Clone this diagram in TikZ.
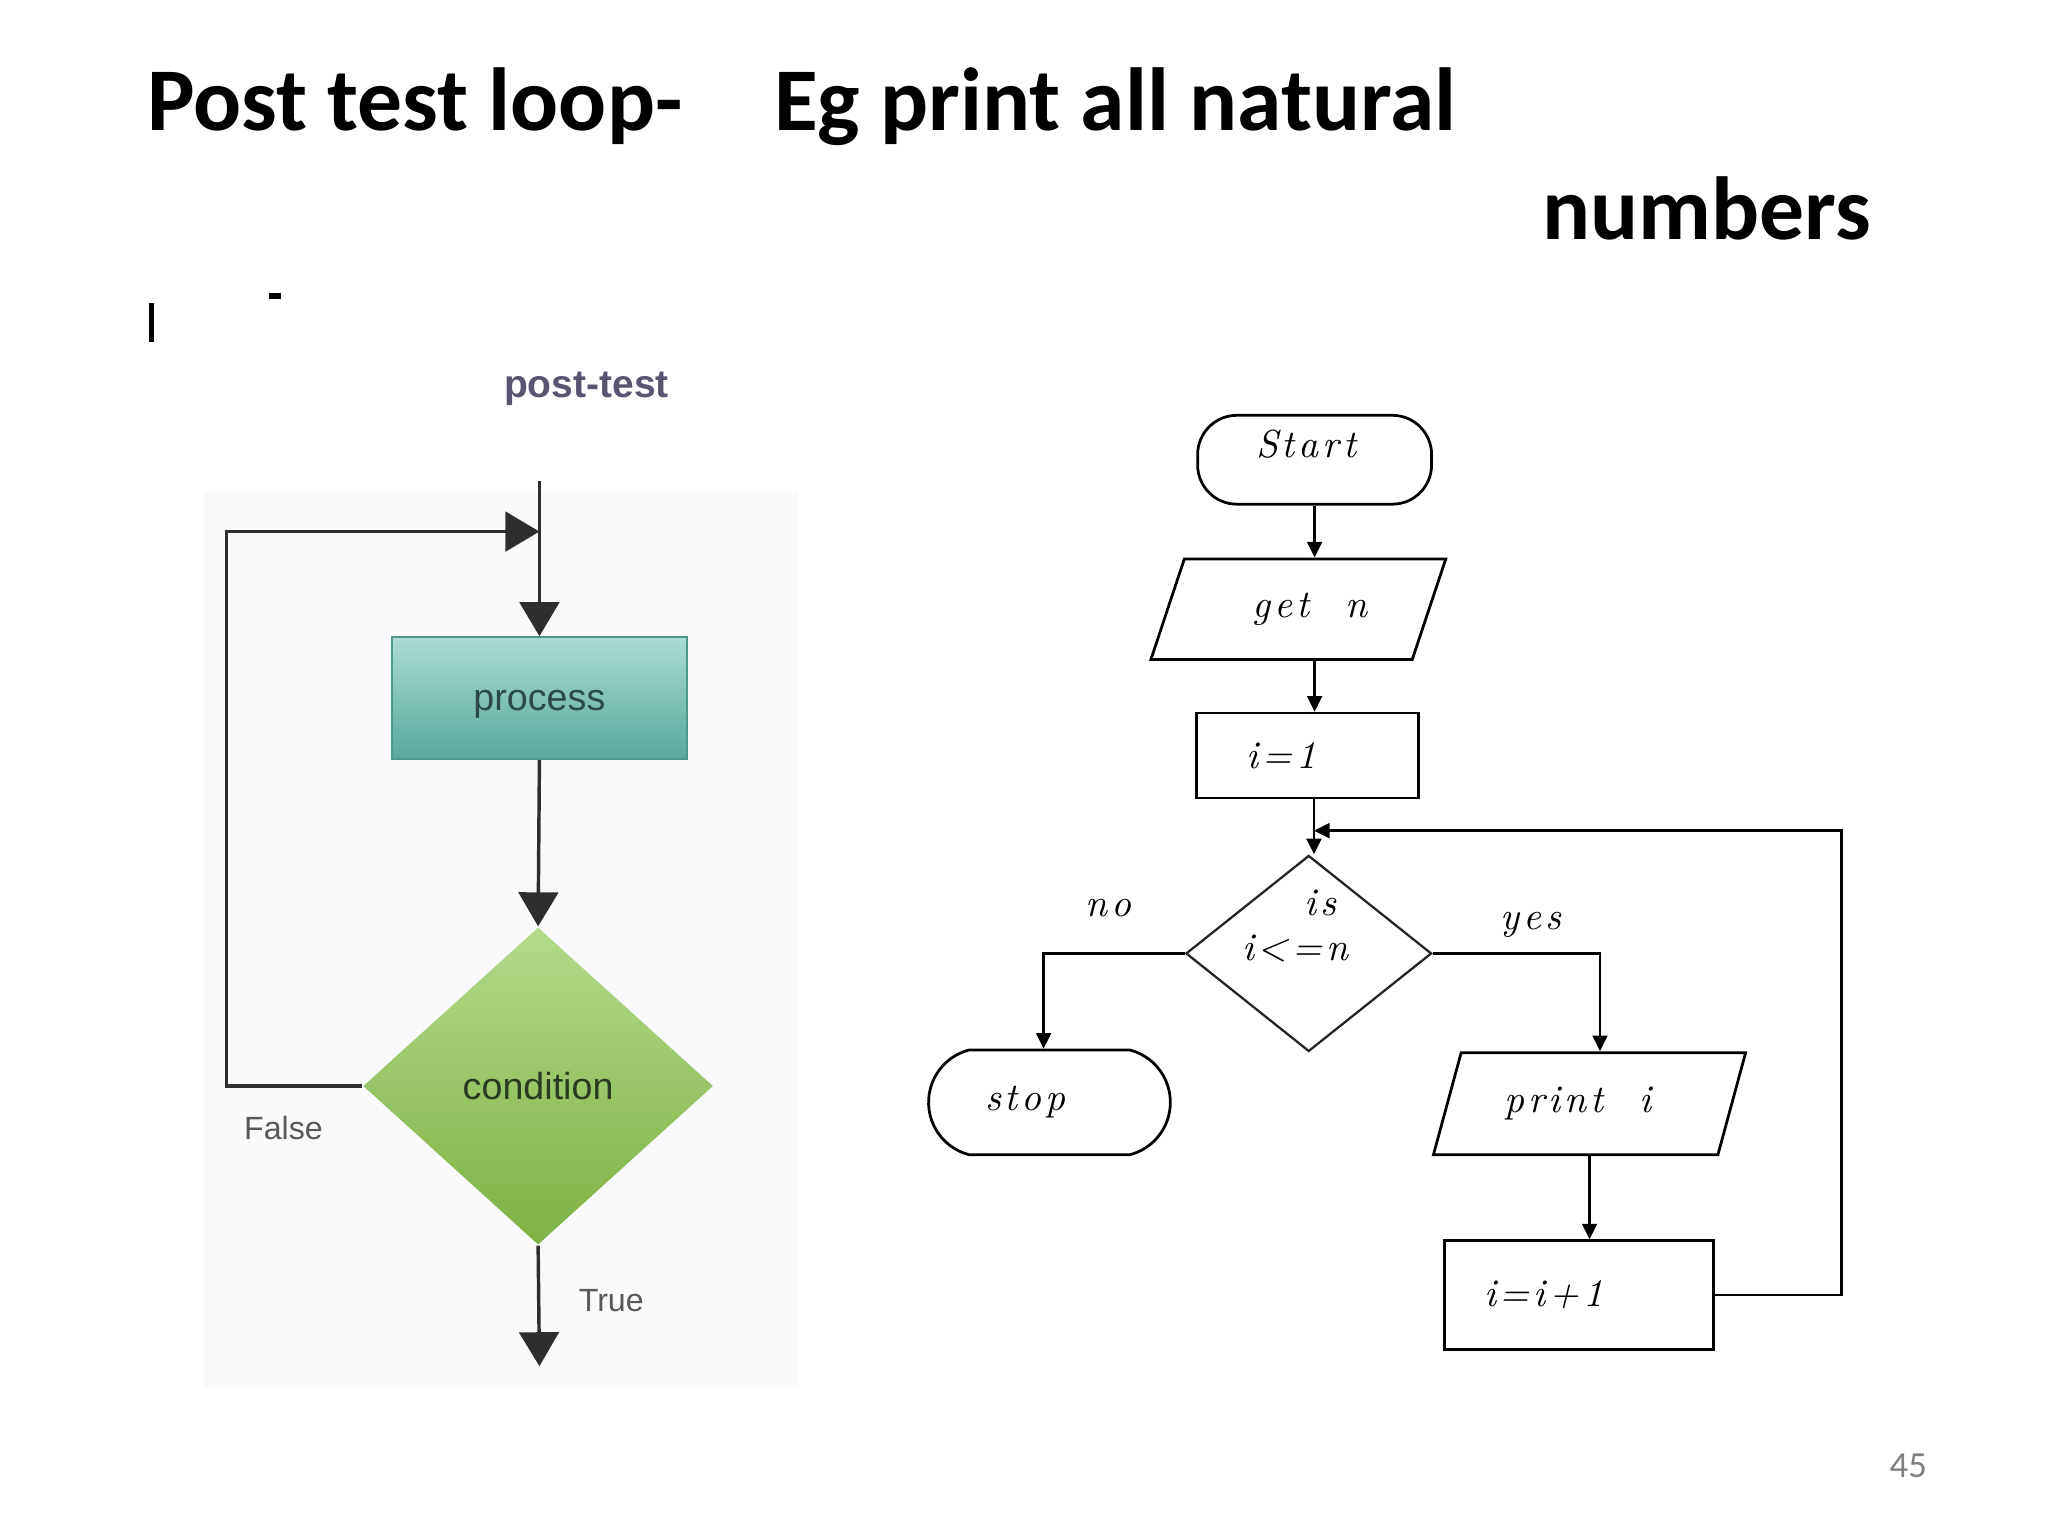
\documentclass[tikz,border=0pt]{standalone}
\usepackage{fontspec}
\usepackage{xcolor}
\usepackage{tikz}
\usetikzlibrary{arrows.meta,positioning,calc,shapes.geometric,shapes.misc}
\setmainfont{Carlito}
\newfontfamily\sansfont{Liberation Sans}
\newfontfamily\flowfont{lmroman10-italic.otf}[LetterSpace=10]
\definecolor{cLine}{HTML}{2E2E2E}
\definecolor{cPurp}{HTML}{5B5470}
\definecolor{cTealTop}{HTML}{AADCD3}
\definecolor{cTealBot}{HTML}{5AA89B}
\definecolor{cTealDk}{HTML}{4E978B}
\definecolor{cTealTxt}{HTML}{2A4A47}
\definecolor{cGrnTop}{HTML}{B4D98C}
\definecolor{cGrnBot}{HTML}{7DB243}
\definecolor{cGrnTxt}{HTML}{2C3A22}
\definecolor{cPanel}{HTML}{FAFAFC}
\definecolor{cNum}{HTML}{7F7F7F}
\tikzset{
  ttl/.style={font=\fontsize{19.5}{23}\selectfont\bfseries,text=black,anchor=base west,inner sep=0pt},
  larr/.style={-{Triangle[length=7.4pt,width=8.6pt]},line width=0.75pt,color=cLine},
  lbl/.style={font=\sansfont\fontsize{7}{8}\selectfont,text=#1,inner sep=0pt},
  lbl/.default=black!65,
  rarr/.style={-{Triangle[length=3.4pt,width=3.2pt]},line width=0.6pt,color=black},
  ftxt/.style={font=\flowfont\fontsize{8.5}{10}\selectfont,inner sep=0pt,align=center},
  fbox/.style={ftxt,draw=black,line width=0.6pt,minimum width=#1},
  term/.style={fbox=#1,rectangle,rounded corners=0.3cm},
  proc/.style={fbox=#1,rectangle},
  io/.style={fbox=#1,trapezium,trapezium stretches=true},
  dec/.style={ftxt,draw=black!85,line width=0.5pt,diamond,minimum width=#1},
}
\begin{document}
\begin{tikzpicture}[x=0.01cm,y=-0.01cm]
  \useasboundingbox (0,0) rectangle (1568,1176);
  % title
  \node[ttl] (t1) at (112,100) {Post test loop-};
  \node[ttl] (t2) at (592,100) {Eg print all natural};
  \node[ttl] (t3) at (1180,183) {numbers};
  \fill[black] (114,232) rectangle (118,262);
  \fill[black] (206,224) rectangle (215,229);
  % left: general post-test loop
  \fill[cPanel] (156,376) rectangle (611,1062);
  \node[font=\sansfont\bfseries\fontsize{8.5}{10}\selectfont,text=cPurp] (ptitle) at (449,298) {post-test};
  \node[rectangle,minimum width=2.26cm,minimum height=0.93cm,top color=cTealTop,bottom color=cTealBot,draw=cTealDk,line width=0.5pt,
    font=\sansfont\fontsize{8.2}{10}\selectfont,text=cTealTxt,label={[font=\sansfont\fontsize{8.2}{10}\selectfont,text=cTealTxt,yshift=-0.05cm]center:process}] (body) at (413,534.5) {};
  \node[diamond,minimum width=2.68cm,minimum height=2.43cm,inner sep=0pt,top color=cGrnTop,bottom color=cGrnBot,
    font=\sansfont\fontsize{8.2}{10}\selectfont,text=cGrnTxt] (test) at (412,831.5) {condition};
  \coordinate (ltop) at (413,368);
  \coordinate (ljoin) at (413,407);
  \coordinate (lend) at (413,1046);
  \draw[larr] (ltop) -- (body.north);
  \draw[larr] (body.south) -- (test.north);
  \draw[larr] (test.west) -- ++(-104,0) |- (ljoin);
  \draw[larr] (test.south) -- (lend);
  \node[lbl] (lfalse) at (217,864) {False};
  \node[lbl] (ltrue) at (468,996) {True};
  % right: print natural numbers
  \node[term=1.79cm,minimum height=0.68cm,label={[ftxt,xshift=-0.065cm,yshift=0.12cm]center:Start}] (start) at (1006.5,352) {};
  \node[io=2.26cm,minimum height=0.77cm,trapezium left angle=58,trapezium right angle=122] (getn) at (994,466.5) {\hspace*{0.18cm}get\ \ n};
  \node[proc=1.70cm,minimum height=0.65cm] (ione) at (1001,578.5) {i=1\hspace*{0.40cm}};
  \node[dec=1.88cm,minimum height=1.50cm,inner sep=0pt,
    label={[ftxt,yshift=0.21cm]center:{\hspace*{0.18cm}is\\i<=n\hspace*{0.21cm}}}] (cond) at (1002,730) {};
  \node[fbox=1.85cm,rounded rectangle,rounded rectangle arc length=150,minimum height=0.80cm] (stop) at (803.5,844) {stop\hspace*{0.37cm}};
  \node[io=2.40cm,minimum height=0.78cm,trapezium left angle=61,trapezium right angle=119] (print) at (1217,845) {print\ \ i\hspace*{0.18cm}};
  \node[proc=2.06cm,minimum height=0.83cm] (incr) at (1209,991.5) {i=i+1\hspace*{0.54cm}};
  \coordinate (merge) at (1006,636);
  \coordinate (nodrop) at (799,0);
  \coordinate (yesdrop) at (1225,0);
  \draw[rarr] (start.south) -- (start.south |- getn.north);
  \draw[rarr] (start.south |- getn.south) -- (start.south |- ione.north);
  \draw[rarr] (merge |- ione.south) -- (merge |- cond.north);
  \draw[rarr] (cond.west) -| (nodrop |- stop.north);
  \draw[rarr] (cond.east) -| (yesdrop |- print.north);
  \draw[rarr] (print.south) -- (print.south |- incr.north);
  \draw[rarr] (incr.east) -- ++(97,0) |- (merge);
  \node[ftxt] (lno) at (849,695) {no};
  \node[ftxt] (lyes) at (1172,708) {yes};
  % page number
  \node[font=\fontsize{8}{9}\selectfont,text=cNum] (pnum) at (1461,1122) {45};
\end{tikzpicture}
\end{document}
